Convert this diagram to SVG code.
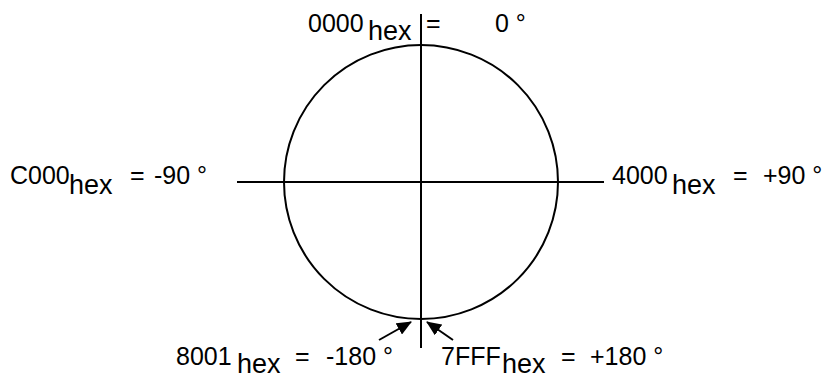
<svg xmlns="http://www.w3.org/2000/svg" width="827" height="379" viewBox="0 0 827 379">
<style>
.t{font-family:"Liberation Sans",Arial,sans-serif;font-size:25px;fill:#000}
.s{font-size:27px}
.ln{stroke:#000;stroke-width:2;fill:none}
</style>
<defs>
<marker id="ah" markerWidth="15" markerHeight="13" refX="14" refY="6.5" orient="auto" markerUnits="userSpaceOnUse" viewBox="0 0 15 13">
<path d="M0,0 L15,6.5 L0,13 Z" fill="#000"/>
</marker>
</defs>
<g id="circle"><circle class="ln" cx="421" cy="182" r="137"/></g>
<g id="connectors">
<line class="ln" x1="421" y1="14" x2="421" y2="348"/>
<line class="ln" x1="237" y1="182" x2="604" y2="182"/>
<line class="ln" x1="379" y1="340" x2="411" y2="322" marker-end="url(#ah)"/>
<line class="ln" x1="453" y1="340" x2="427" y2="322" marker-end="url(#ah)"/>
</g>
<g id="label-top">
<text class="t" x="308" y="32">0000</text><text class="t s" x="368" y="40">hex</text>
<text class="t" x="426" y="32">=</text>
<text class="t" x="495" y="32">0 °</text>
</g>
<g id="label-left">
<text class="t" x="10" y="184">C000</text><text class="t s" x="69" y="194">hex</text>
<text class="t" x="130" y="184">=</text>
<text class="t" x="154" y="184">-90 °</text>
</g>
<g id="label-right">
<text class="t" x="612" y="184">4000</text><text class="t s" x="672" y="194">hex</text>
<text class="t" x="733" y="184">=</text>
<text class="t" x="763" y="184">+90 °</text>
</g>
<g id="label-bottom-left">
<text class="t" x="176" y="365">8001</text><text class="t s" x="237" y="373">hex</text>
<text class="t" x="295" y="365">=</text>
<text class="t" x="326" y="365">-180 °</text>
</g>
<g id="label-bottom-right">
<text class="t" x="441" y="365">7FFF</text><text class="t s" x="502" y="373">hex</text>
<text class="t" x="561" y="365">=</text>
<text class="t" x="590" y="365">+180 °</text>
</g>
</svg>
